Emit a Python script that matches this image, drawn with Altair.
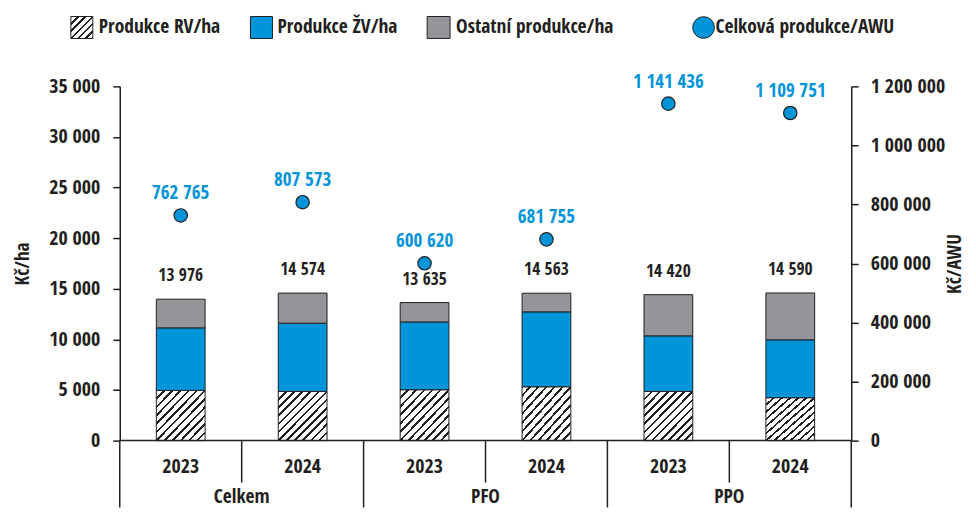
import altair as alt
import pandas as pd

# ---- data ----
groups = ["Celkem", "Celkem", "PFO", "PFO", "PPO", "PPO"]
years = ["2023", "2024", "2023", "2024", "2023", "2024"]
rv = [4960, 4860, 5030, 5320, 4860, 4240]          # Produkce RV/ha
zv = [6180, 6745, 6700, 7400, 5490, 5720]          # Produkce ŽV/ha
other = [2836, 2969, 1905, 1843, 4070, 4630]       # Ostatní produkce/ha
total = [13976, 14574, 13635, 14563, 14420, 14590]
awu = [762765, 807573, 600620, 681755, 1141436, 1109751]  # Celková produkce/AWU
legend_labels = ["Produkce RV/ha", "Produkce ŽV/ha", "Ostatní produkce/ha", "Celková produkce/AWU"]
left_ticks = [0, 5000, 10000, 15000, 20000, 25000, 30000, 35000]
right_ticks = [0, 200000, 400000, 600000, 800000, 1000000, 1200000]


def fmt(v):
    return f"{v:,}".replace(",", " ")


keys = [f"{g} {y}" for g, y in zip(groups, years)]
df = pd.DataFrame({
    "key": keys, "group": groups, "year": years,
    "rv": rv, "zv": zv, "other": other, "total": total, "awu": awu,
})
df["total_label"] = [fmt(v) for v in total]
df["awu_label"] = [fmt(v) for v in awu]

FONT = ("'Liberation Sans Narrow', 'Noto Sans Condensed', 'Noto Sans ExtraCondensed', "
        "'Open Sans Condensed', 'Roboto Condensed', 'DejaVu Sans Condensed', Roboto, sans-serif")
DARK = "#231f20"
BLUE = "#0095d9"
GRAY = "#939598"
W, H = 733, 355


def hatch(n, w):
    stops = []
    for k in range(n + 1):
        c = k / n
        a = max(0.0, c - w / 2)
        b = min(1.0, c + w / 2)
        stops += [
            alt.GradientStop(offset=a, color="white"),
            alt.GradientStop(offset=a, color=DARK),
            alt.GradientStop(offset=b, color=DARK),
            alt.GradientStop(offset=b, color="white"),
        ]
    return alt.LinearGradient(gradient="linear", stops=stops, x1=0, y1=0, x2=1, y2=1)


HATCH_BAR = hatch(12, 0.026)
HATCH_LEG = hatch(6, 0.06)

xscale = alt.Scale(paddingInner=0, paddingOuter=0)


def X(bp=0.5):
    return alt.X("key:N", sort=keys, scale=xscale, axis=None, bandPosition=bp)


left_axis = alt.Axis(
    values=left_ticks, labelExpr="replace(format(datum.value, ','), regexp(',', 'g'), ' ')",
    tickSize=7, tickWidth=1.5, tickColor=DARK, domainColor=DARK, domainWidth=1.5,
    labelPadding=13, labelFontSize=20, grid=False,
    titleX=-97, titleY=H / 2, titleAngle=270, titleBaseline="middle", titleAlign="center",
    titleFontSize=19,
)
right_axis = alt.Axis(
    orient="right", values=right_ticks,
    labelExpr="replace(format(datum.value, ','), regexp(',', 'g'), ' ')",
    tickSize=7, tickWidth=1.5, tickColor=DARK, domainColor=DARK, domainWidth=1.5,
    labelPadding=12, labelFontSize=20, grid=False,
    titleX=103, titleY=H / 2, titleAngle=270, titleBaseline="middle", titleAlign="center",
    titleFontSize=19,
)
yscale = alt.Scale(domain=[0, 35000], nice=False, zero=True)
y2scale = alt.Scale(domain=[0, 1200000], nice=False, zero=True)


def YL(field):
    return alt.Y(field, type="quantitative", scale=yscale, axis=left_axis, title="Kč/ha")


base = alt.Chart(df)
bw = alt.RelativeBandSize(0.4)

rv_bar = base.mark_bar(width=bw, fill=HATCH_BAR, stroke=DARK, strokeWidth=1).encode(
    x=X(), y=YL("rv"), y2=alt.datum(0)
)
zv_bar = base.transform_calculate(top1="datum.rv + datum.zv").mark_bar(
    width=bw, fill=BLUE, stroke=DARK, strokeWidth=1
).encode(x=X(), y=YL("rv"), y2="top1:Q")
o_bar = base.transform_calculate(top1="datum.rv + datum.zv").mark_bar(
    width=bw, fill=GRAY, stroke=DARK, strokeWidth=1
).encode(x=X(), y=YL("top1"), y2="total:Q")
tot_text = base.mark_text(dy=-23, fontSize=17.5, fontWeight="bold", color=DARK, baseline="middle").encode(
    x=X(), y=YL("total"), text="total_label:N"
)

BOT = 67  # rules reach the bottom edge
one = pd.DataFrame({"a": [0]})
zero_line = alt.Chart(one).mark_rule(color=DARK, strokeWidth=1.5).encode(
    x=alt.value(0), x2=alt.value(W), y=alt.value(H)
)
year_div = base.transform_filter(alt.datum.year == "2024").mark_rule(color=DARK, strokeWidth=1.5).encode(
    x=X(0), y=alt.value(H), y2=alt.value(H + 42)
)
group_div = base.transform_filter(alt.datum.year == "2023").mark_rule(color=DARK, strokeWidth=1.5).encode(
    x=X(0), y=alt.value(H), y2=alt.value(H + BOT)
)
right_div = base.transform_filter(alt.datum.key == keys[-1]).mark_rule(color=DARK, strokeWidth=1.5).encode(
    x=X(1), y=alt.value(H), y2=alt.value(H + BOT)
)
year_text = base.mark_text(fontSize=20, fontWeight="bold", color=DARK, baseline="middle").encode(
    x=X(), y=alt.value(H + 26), text="year:N"
)
group_text = base.transform_filter(alt.datum.year == "2024").mark_text(
    fontSize=19.5, fontWeight="bold", color=DARK, baseline="middle"
).encode(x=X(0), y=alt.value(H + 57), text="group:N")

# legend
LY = -59
leg = []
leg.append(alt.Chart(one).mark_rect(fill=HATCH_LEG, stroke=DARK, strokeWidth=1).encode(
    x=alt.value(-49), x2=alt.value(-27), y=alt.value(LY - 11), y2=alt.value(LY + 11)))
leg.append(alt.Chart(one).mark_rect(fill=BLUE, stroke=DARK, strokeWidth=1).encode(
    x=alt.value(131), x2=alt.value(153), y=alt.value(LY - 11), y2=alt.value(LY + 11)))
leg.append(alt.Chart(one).mark_rect(fill=GRAY, stroke=DARK, strokeWidth=1).encode(
    x=alt.value(308), x2=alt.value(331), y=alt.value(LY - 11), y2=alt.value(LY + 11)))
leg.append(alt.Chart(one).mark_point(shape="circle", filled=True, fill=BLUE, stroke=DARK, strokeWidth=1,
                                     size=470, opacity=1).encode(x=alt.value(585), y=alt.value(LY)))
for lbl, px in zip(legend_labels, [-21, 158, 337, 597]):
    leg.append(alt.Chart(pd.DataFrame({"t": [lbl]})).mark_text(
        align="left", baseline="middle", fontSize=19.5, fontWeight="bold", color=DARK
    ).encode(x=alt.value(px), y=alt.value(LY), text="t:N"))

left = alt.layer(rv_bar, zv_bar, o_bar, tot_text, zero_line, year_div, group_div, right_div,
                 year_text, group_text, *leg)

dots = base.mark_point(shape="circle", filled=True, fill=BLUE, stroke=DARK, strokeWidth=1.2,
                       size=180, opacity=1).encode(
    x=X(), y=alt.Y("awu:Q", scale=y2scale, axis=right_axis, title="Kč/AWU")
)
awu_text = base.mark_text(dy=-22, fontSize=19, fontWeight="bold", color=BLUE, baseline="middle").encode(
    x=X(), y=alt.Y("awu:Q", scale=y2scale, axis=right_axis, title="Kč/AWU"), text="awu_label:N"
)
right = alt.layer(dots, awu_text)

chart = alt.layer(left, right).resolve_scale(y="independent").properties(
    width=W, height=H,
    padding={"left": 112, "top": 78, "right": 117, "bottom": BOT},
    autosize=alt.AutoSizeParams(type="none"),
).configure(font=FONT).configure_view(stroke=None).configure_axis(
    labelFont=FONT, titleFont=FONT, labelColor=DARK, titleColor=DARK,
    labelFontWeight="bold", titleFontWeight="bold",
).configure_text(font=FONT)

chart.save("out.html", embed_options={"renderer": "svg", "actions": False})
